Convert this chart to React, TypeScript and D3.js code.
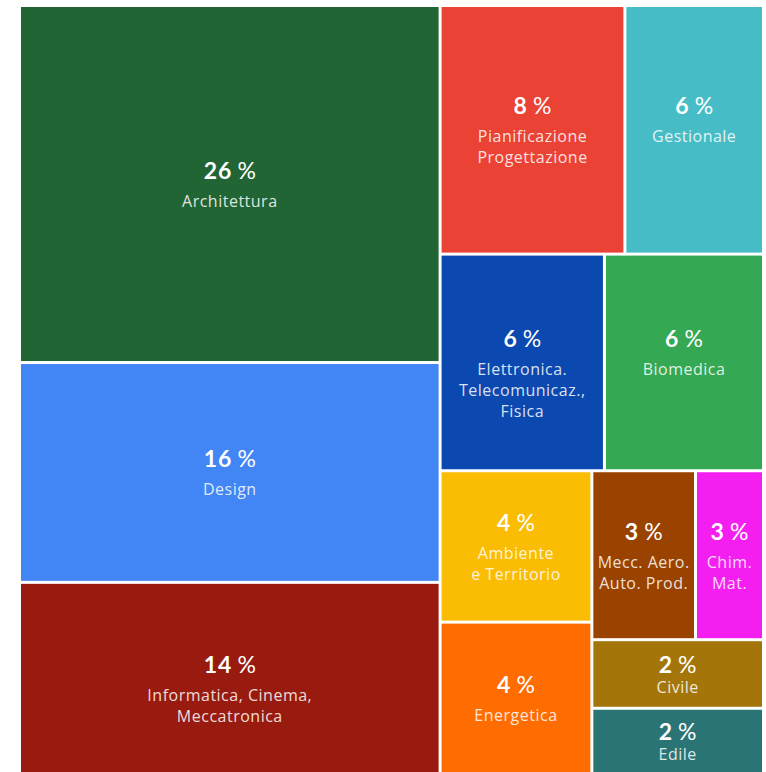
import React from "react";
import * as d3 from "d3";

// ---- data ----
const categories = [
  "Architettura",
  "Design",
  "Informatica, Cinema, Meccatronica",
  "Pianificazione Progettazione",
  "Gestionale",
  "Elettronica. Telecomunicaz., Fisica",
  "Biomedica",
  "Ambiente e Territorio",
  "Energetica",
  "Mecc. Aero. Auto. Prod.",
  "Chim. Mat.",
  "Civile",
  "Edile",
];
// area estimates read from the tiles
const values = [26.15, 16.1, 14.0, 8.0, 6.0, 6.2, 6.0, 4.0, 4.0, 3.05, 2.0, 2.05, 1.95];
// percent labels as printed
const percents = [26, 16, 14, 8, 6, 6, 6, 4, 4, 3, 3, 2, 2];
const labelLines = [
  ["Architettura"],
  ["Design"],
  ["Informatica, Cinema,", "Meccatronica"],
  ["Pianificazione", "Progettazione"],
  ["Gestionale"],
  ["Elettronica.", "Telecomunicaz.,", "Fisica"],
  ["Biomedica"],
  ["Ambiente", "e Territorio"],
  ["Energetica"],
  ["Mecc. Aero.", "Auto. Prod."],
  ["Chim.", "Mat."],
  ["Civile"],
  ["Edile"],
];
// number of label lines used for vertical centring of each tile's text
const alignLines = [1, 1, 1, 2, 2, 2, 2, 2, 1, 2, 2, 1, 1];
const colors = [
  "#216534",
  "#4285F4",
  "#991B10",
  "#EA4335",
  "#46BDC6",
  "#0B48AF",
  "#34A853",
  "#FBBC04",
  "#FF6D01",
  "#9A4300",
  "#F41EF0",
  "#A4760A",
  "#2A7475",
];

// grouping of the tiles (split: "x" = side by side, "y" = stacked)
type G = { split?: "x" | "y"; kids?: (G | number)[] };
const grouping: G = {
  split: "x",
  kids: [
    { split: "y", kids: [0, 1, 2] },
    {
      split: "y",
      kids: [
        { split: "x", kids: [3, 4] },
        { split: "x", kids: [5, 6] },
        {
          split: "x",
          kids: [
            { split: "y", kids: [7, 8] },
            { split: "y", kids: [{ split: "x", kids: [9, 10] }, 11, 12] },
          ],
        },
      ],
    },
  ],
};

type N = { split?: "x" | "y"; idx?: number; children?: N[]; value?: number };
function build(g: G | number): N {
  if (typeof g === "number") return { idx: g, value: values[g] };
  return { split: g.split, children: (g.kids || []).map(build) };
}

const W = 766;
const H = 772;
const X0 = 21;
const Y0 = 7;
const TW = 741;
const TH = 765;

export default function App() {
  const root = d3
    .hierarchy<N>(build(grouping))
    .sum((d) => (d.children ? 0 : d.value || 0));

  d3
    .treemap<N>()
    .size([TW, TH])
    .paddingInner(3)
    .round(false)
    .tile((node: any, x0, y0, x1, y1) => {
      if (node.data.split === "x") d3.treemapDice(node, x0, y0, x1, y1);
      else d3.treemapSlice(node, x0, y0, x1, y1);
    })(root);

  const leaves = root.leaves() as d3.HierarchyRectangularNode<N>[];

  return (
    <svg
      width={W}
      height={H}
      style={{ position: "absolute", left: 0, top: 0, background: "#fff" }}
    >
      <g transform={`translate(${X0},${Y0})`}>
        {leaves.map((l) => {
          const i = l.data.idx as number;
          const w = l.x1 - l.x0;
          const h = l.y1 - l.y0;
          const cx = l.x0 + w / 2;
          const cy = l.y0 + h / 2;
          const lines = labelLines[i];
          const gap = h < 100 ? 23 : 31;
          const span = gap + (alignLines[i] - 1) * 21;
          const numY = cy - span / 2 + 1.5;
          return (
            <g key={i}>
              <rect x={l.x0} y={l.y0} width={w} height={h} fill={colors[i]} />
              <text
                x={cx}
                y={numY}
                textAnchor="middle"
                dominantBaseline="central"
                fontFamily="Lato, 'Open Sans', sans-serif"
                fill="#fff"
              >
                <tspan fontWeight={700} fontSize={23} letterSpacing={1}>
                  {percents[i]}
                </tspan>
                <tspan fontWeight={400} fontSize={23} dx={5}>
                  %
                </tspan>
              </text>
              {lines.map((ln, k) => (
                <text
                  key={k}
                  x={cx}
                  y={numY + gap + k * 21}
                  textAnchor="middle"
                  dominantBaseline="central"
                  fontFamily="'Open Sans', Lato, sans-serif"
                  fontSize={16}
                  letterSpacing={0.5}
                  fill="#fff"
                  fillOpacity={0.85}
                >
                  {ln}
                </text>
              ))}
            </g>
          );
        })}
      </g>
    </svg>
  );
}
